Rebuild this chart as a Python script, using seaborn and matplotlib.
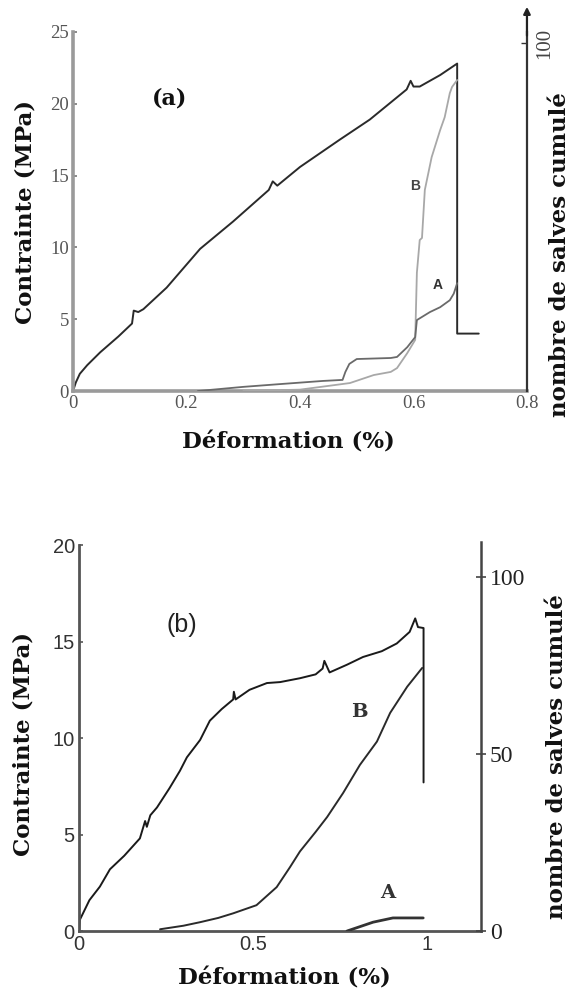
import matplotlib
matplotlib.use("Agg")
import matplotlib.pyplot as plt
import seaborn as sns

# ---------------- data: panel (a) ----------------
a_stress_x = [0, 0.005, 0.012, 0.025, 0.048, 0.08, 0.104, 0.107, 0.115, 0.124, 0.165, 0.224, 0.282,
              0.345, 0.352, 0.36, 0.40, 0.47, 0.523, 0.588, 0.595, 0.60, 0.611, 0.647, 0.677,
              0.677, 0.715]
a_stress_y = [0, 0.6, 1.2, 1.8, 2.7, 3.8, 4.7, 5.6, 5.5, 5.7, 7.2, 9.9, 11.8,
              14.0, 14.6, 14.3, 15.6, 17.5, 18.9, 21.0, 21.6, 21.2, 21.2, 22.0, 22.8,
              4.0, 4.0]
a_A_x = [0.22, 0.30, 0.365, 0.44, 0.475, 0.48, 0.487, 0.50, 0.56, 0.571, 0.589, 0.603,
         0.606, 0.629, 0.647, 0.664, 0.671, 0.677]
a_A_y = [0, 1.2, 2.0, 2.9, 3.2, 5.5, 7.8, 9.2, 9.5, 9.8, 12.6, 15.5,
         20.4, 22.7, 24.1, 26.1, 28.0, 31.0]
a_B_x = [0.30, 0.40, 0.488, 0.53, 0.56, 0.571, 0.589, 0.603, 0.606, 0.611, 0.615, 0.62,
         0.632, 0.647, 0.655, 0.664, 0.668, 0.677]
a_B_y = [0, 0.4, 2.3, 4.6, 5.5, 6.6, 10.9, 14.7, 34.0, 43.4, 44.0, 57.8,
         67.2, 75.0, 78.7, 85.6, 87.4, 89.4]
a_xticks = [0, 0.2, 0.4, 0.6, 0.8]
a_xticklabels = ["0", "0.2", "0.4", "0.6", "0.8"]
a_yticks = [0, 5, 10, 15, 20, 25]
a_rticks = [100]

# ---------------- data: panel (b) ----------------
b_stress_x = [0, 0.003, 0.03, 0.06, 0.089, 0.13, 0.175, 0.19, 0.195, 0.205, 0.224, 0.26,
              0.29, 0.31, 0.348, 0.376, 0.41, 0.443, 0.445, 0.45, 0.49, 0.54, 0.578, 0.635,
              0.68, 0.70, 0.705, 0.72, 0.77, 0.816, 0.87, 0.913, 0.95, 0.966, 0.974, 0.99,
              0.99]
b_stress_y = [0, 0.6, 1.6, 2.3, 3.2, 3.9, 4.8, 5.7, 5.4, 6.0, 6.4, 7.4,
              8.3, 9.0, 9.9, 10.9, 11.5, 12.0, 12.4, 12.0, 12.5, 12.85, 12.9, 13.1,
              13.3, 13.6, 14.0, 13.4, 13.8, 14.2, 14.5, 14.9, 15.5, 16.2, 15.75, 15.7,
              7.7]
b_B_x = [0.233, 0.30, 0.348, 0.40, 0.443, 0.51, 0.568, 0.606, 0.635, 0.68, 0.713, 0.759,
         0.807, 0.856, 0.894, 0.943, 0.986]
b_B_y = [0.5, 1.5, 2.5, 3.7, 5.0, 7.3, 12.4, 18.0, 22.5, 28.0, 32.2, 39.0,
         46.9, 53.5, 61.6, 69.0, 74.3]
b_A_x = [0.77, 0.80, 0.845, 0.902, 0.989]
b_A_y = [0.0, 1.0, 2.5, 3.7, 3.7]
b_xticks = [0, 0.5, 1]
b_xticklabels = ["0", "0.5", "1"]
b_yticks = [0, 5, 10, 15, 20]
b_rticks = [0, 50, 100]

ylabel_txt = "Contrainte (MPa)"
xlabel_txt = "Déformation (%)"
rlabel_txt = "nombre de salves cumulé"

sns.set_style("white")
plt.rcParams["font.family"] = ["DejaVu Sans"]

fig = plt.figure(figsize=(5.85, 9.93), dpi=100)

LAB = dict(family="DejaVu Serif", weight="bold", size=16.5, color="#111111")

# ================= panel (a) =================
axa = fig.add_axes([0.1248, 0.6062, 0.776, 0.3616])
axa.set_facecolor("none")
sns.lineplot(x=a_stress_x, y=a_stress_y, sort=False, estimator=None, ax=axa,
             color="#2a2a2a", lw=1.4)
axa.set_xlim(0, 0.8)
axa.set_ylim(0, 25)
axa.set_xticks(a_xticks)
axa.set_xticklabels(a_xticklabels)
axa.set_yticks(a_yticks)
for s in ["top", "right"]:
    axa.spines[s].set_visible(False)
for s in ["left", "bottom"]:
    axa.spines[s].set_color("#9a9a9a")
    axa.spines[s].set_linewidth(2.6)
axa.tick_params(direction="in", length=3, width=1.2, color="#777777",
                labelsize=13.5, labelcolor="#555555", pad=3)
for lab in axa.get_xticklabels() + axa.get_yticklabels():
    lab.set_family("Liberation Serif")
axa.set_ylabel(ylabel_txt, **LAB)
axa.set_xlabel(xlabel_txt, **LAB)
axa.yaxis.set_label_coords(-0.08, 0.50)
axa.xaxis.set_label_coords(0.474, -0.112)
axa.text(0.171, 20.4, "(a)", family="DejaVu Serif", weight="bold", size=16,
         ha="center", va="center", color="#111111")

axa2 = axa.twinx()
sns.lineplot(x=a_B_x, y=a_B_y, sort=False, estimator=None, ax=axa2,
             color="#a8a8a8", lw=1.3)
sns.lineplot(x=a_A_x, y=a_A_y, sort=False, estimator=None, ax=axa2,
             color="#6a6a6a", lw=1.3)
axa2.set_ylim(0, 103.2)
axa2.set_yticks(a_rticks)
axa2.set_yticklabels(["100"], rotation=90, va="center", family="Liberation Serif")
for s in ["top", "left", "bottom"]:
    axa2.spines[s].set_visible(False)
axa2.spines["right"].set_color("#333333")
axa2.spines["right"].set_linewidth(1.6)
axa2.tick_params(axis="y", direction="in", length=4, width=1.0, color="#333333",
                 labelsize=15, labelcolor="#444444", pad=6)
axa2.set_ylabel("")
axa2.annotate("", xy=(1, 1.07), xytext=(1, 0.99), xycoords="axes fraction",
              textcoords="axes fraction",
              arrowprops=dict(arrowstyle="-|>", color="#222222", lw=1.6,
                              mutation_scale=10, shrinkA=0, shrinkB=0))
axa2.text(1.073, 0.379, rlabel_txt, transform=axa2.transAxes, rotation=90,
          ha="center", va="center", **LAB)
axa.text(0.603, 14.3, "B", family="Liberation Sans", weight="bold", size=10,
         ha="center", va="center", color="#444444")
axa.text(0.643, 7.4, "A", family="Liberation Sans", weight="bold", size=10,
         ha="center", va="center", color="#333333")

# ================= panel (b) =================
axb = fig.add_axes([0.135, 0.0624, 0.6872, 0.3887])
axb.set_facecolor("none")
sns.lineplot(x=b_stress_x, y=b_stress_y, sort=False, estimator=None, ax=axb,
             color="#1a1a1a", lw=1.4)
axb.set_xlim(0, 1.155)
axb.set_ylim(0, 20)
axb.set_xticks(b_xticks)
axb.set_xticklabels(b_xticklabels)
axb.set_yticks(b_yticks)
for s in ["top", "right"]:
    axb.spines[s].set_visible(False)
for s in ["left", "bottom"]:
    axb.spines[s].set_color("#555555")
    axb.spines[s].set_linewidth(2.0)
axb.tick_params(direction="in", length=3, width=1.2, color="#555555",
                labelsize=14.5, labelcolor="#333333", pad=3)
for lab in axb.get_xticklabels() + axb.get_yticklabels():
    lab.set_family("Liberation Sans")
axb.set_ylabel(ylabel_txt, **LAB)
axb.set_xlabel(xlabel_txt, **LAB)
axb.yaxis.set_label_coords(-0.11, 0.484)
axb.xaxis.set_label_coords(0.512, -0.094)
axb.text(0.296, 15.85, "(b)", family="Liberation Sans", size=18,
         ha="center", va="center", color="#222222")

axb2 = axb.twinx()
sns.lineplot(x=b_B_x, y=b_B_y, sort=False, estimator=None, ax=axb2,
             color="#2a2a2a", lw=1.4)
sns.lineplot(x=b_A_x, y=b_A_y, sort=False, estimator=None, ax=axb2,
             color="#333333", lw=2.0)
axb2.set_ylim(0, 109)
axb2.set_yticks(b_rticks)
axb2.set_yticklabels([str(v) for v in b_rticks], family="Liberation Serif")
for s in ["top", "left", "bottom"]:
    axb2.spines[s].set_visible(False)
axb2.spines["right"].set_color("#444444")
axb2.spines["right"].set_linewidth(1.8)
axb2.spines["right"].set_bounds(0, 110)
axb2.tick_params(axis="y", direction="inout", length=7, width=1.2, color="#444444",
                 labelsize=17, labelcolor="#222222", pad=3)
axb2.set_ylabel("")
axb2.text(1.189, 0.453, rlabel_txt, transform=axb2.transAxes, rotation=90,
          ha="center", va="center", **LAB)
axb.text(0.807, 11.35, "B", family="DejaVu Serif", weight="bold", size=14,
         ha="center", va="center", color="#333333")
axb.text(0.888, 1.97, "A", family="DejaVu Serif", weight="bold", size=14,
         ha="center", va="center", color="#333333")

fig.savefig("out.png", dpi=100)
